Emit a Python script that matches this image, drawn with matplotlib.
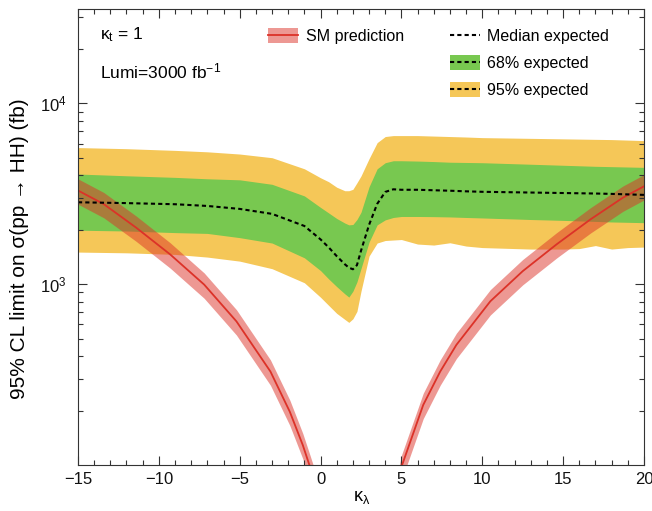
import numpy as np
import matplotlib.pyplot as plt
from matplotlib.patches import Patch
from matplotlib.lines import Line2D
from matplotlib.ticker import FixedLocator, LogLocator, NullFormatter, MultipleLocator

plt.rcParams['font.family'] = ['Liberation Sans', 'DejaVu Sans']
plt.rcParams['mathtext.fontset'] = 'custom'
plt.rcParams['mathtext.rm'] = 'Liberation Sans'
plt.rcParams['mathtext.it'] = 'Liberation Sans'
plt.rcParams['mathtext.default'] = 'regular'

# kappa_lambda scan points (expected limit bands)
kl = np.array([-15, -12, -9, -7, -5, -3, -1, 0, 0.5, 1, 1.5, 1.75, 2, 2.25, 2.5, 3, 3.5, 4, 4.5, 5,
               6, 7, 8, 9, 10, 11, 12, 13, 14, 15, 16, 17, 18, 19, 20])

# limits in fb
median = np.array([2840, 2810, 2770, 2710, 2610, 2450, 2100, 1770, 1600, 1430, 1290, 1235, 1210, 1275, 1530,
                   2130, 2780, 3240, 3350, 3330,
                   3330, 3310, 3290, 3265, 3245, 3235, 3225, 3215, 3205, 3195, 3185, 3175, 3160, 3140, 3120])
band68_up = np.array([4070, 3980, 3900, 3830, 3780, 3570, 3080, 2660, 2480, 2310, 2180, 2130, 2140, 2280, 2500,
                      3460, 4350, 4700, 4820, 4820,
                      4800, 4770, 4730, 4715, 4700, 4670, 4640, 4610, 4580, 4550, 4520, 4490, 4470, 4450, 4430])
band68_dn = np.array([1990, 1970, 1930, 1910, 1810, 1690, 1400, 1190, 1070, 970, 885, 849, 915, 1030, 1220,
                      1710, 2130, 2270, 2340, 2370,
                      2370, 2365, 2356, 2340, 2326, 2310, 2296, 2280, 2268, 2255, 2240, 2225, 2210, 2200, 2190])
band95_up = np.array([5700, 5620, 5500, 5400, 5250, 5010, 4350, 3880, 3690, 3440, 3290, 3290, 3350, 3640, 3970,
                      4950, 6070, 6560, 6640, 6640,
                      6640, 6600, 6560, 6520, 6470, 6450, 6430, 6410, 6390, 6370, 6350, 6330, 6310, 6270, 6230])
band95_dn = np.array([1506, 1492, 1462, 1413, 1342, 1219, 1019, 847, 764, 690, 639, 615, 644, 708, 914,
                      1431, 1690, 1745, 1756, 1767,
                      1668, 1647, 1696, 1626, 1595, 1585, 1575, 1565, 1565, 1565, 1575, 1636, 1565, 1595, 1605])

# SM prediction, two branches (the middle part is below the plotted range)
sm_kl_left = np.array([-15, -13.4, -11.4, -9.3, -7.2, -5.2, -3.1, -1.9, -1.1, -0.65, -0.3])
sm_left = np.array([3300, 2772, 2055, 1462, 996, 623, 329, 197, 129, 97.5, 78])
sm_kl_right = np.array([4.8, 5.0, 6.35, 7.4, 8.4, 10.5, 12.5, 14.6, 16.7, 18.7, 20])
sm_right = np.array([80, 97.5, 215, 329, 462, 805, 1181, 1663, 2287, 3013, 3480])
sm_rel_unc = 0.16

c_yellow = '#F5C758'
c_green = '#78C850'
c_red = '#DC3228'

fig = plt.figure(figsize=(6.52, 5.11), dpi=100)
ax = fig.add_axes([0.1196, 0.09, 0.8681, 0.8924])

ax.fill_between(kl, band95_dn, band95_up, color=c_yellow, lw=0)
ax.fill_between(kl, band68_dn, band68_up, color=c_green, lw=0)

for k, v in [(sm_kl_left, sm_left), (sm_kl_right, sm_right)]:
    ax.fill_between(k, v * (1 - sm_rel_unc), v * (1 + sm_rel_unc), color=c_red, alpha=0.5, lw=0)
    ax.plot(k, v, color=c_red, lw=1.3)

ax.plot(kl, median, color='black', lw=1.5, ls=(0, (2, 1.5)))

ax.set_yscale('log')
ax.set_xlim(-15, 20)
ax.set_ylim(100, 33300)

ax.xaxis.set_major_locator(MultipleLocator(5))
ax.xaxis.set_minor_locator(MultipleLocator(1))
ax.yaxis.set_major_locator(FixedLocator([1e3, 1e4]))
ax.yaxis.set_minor_locator(LogLocator(base=10, subs=np.arange(2, 10)))
ax.yaxis.set_minor_formatter(NullFormatter())
ax.set_yticklabels(['$10^{3}$', '$10^{4}$'])

ax.tick_params(which='both', direction='in', top=True, right=True, color='#333333', width=0.8,
               labelsize=12, labelcolor='#111111')
ax.tick_params(which='major', length=6.5)
ax.tick_params(which='minor', length=3.6)
ax.tick_params(axis='x', pad=5)
ax.tick_params(axis='y', pad=8)
for s in ax.spines.values():
    s.set_linewidth(0.8)
    s.set_color('#333333')

ax.set_xlabel(r'$\kappa_\lambda$', fontsize=13)
ax.xaxis.set_label_coords(0.502, -0.053)
ax.set_ylabel('95% CL limit on σ(pp → HH) (fb)', fontsize=15, ha='right')
ax.yaxis.set_label_coords(-0.086, 0.805)

ax.text(0.039, 0.944, r'$\kappa_t$ = 1', transform=ax.transAxes, fontsize=12.5, va='center')
ax.text(0.039, 0.864, 'Lumi=3000 fb$^{-1}$', transform=ax.transAxes, fontsize=12.5, va='center')

sm_handle = (Patch(facecolor=c_red, alpha=0.5, lw=0), Line2D([], [], color=c_red, lw=1.3))
leg1 = ax.legend([sm_handle], ['SM prediction'], loc='upper left', bbox_to_anchor=(0.3357, 0.958),
                 frameon=False, fontsize=11.5, handlelength=1.9, handleheight=1.1,
                 handletextpad=0.45, borderaxespad=0, borderpad=0)
ax.add_artist(leg1)

med_line = Line2D([], [], color='black', lw=1.5, ls=(0, (2, 1.5)))
h68 = (Patch(facecolor=c_green, lw=0), Line2D([], [], color='black', lw=1.5, ls=(0, (2, 1.5))))
h95 = (Patch(facecolor=c_yellow, lw=0), Line2D([], [], color='black', lw=1.5, ls=(0, (2, 1.5))))
ax.legend([med_line, h68, h95], ['Median expected', '68% expected', '95% expected'],
          loc='upper left', bbox_to_anchor=(0.657, 0.958), frameon=False, fontsize=11.5,
          handlelength=1.9, handleheight=1.1, handletextpad=0.45, labelspacing=0.68,
          borderaxespad=0, borderpad=0)

fig.savefig('out.png', dpi=100)
